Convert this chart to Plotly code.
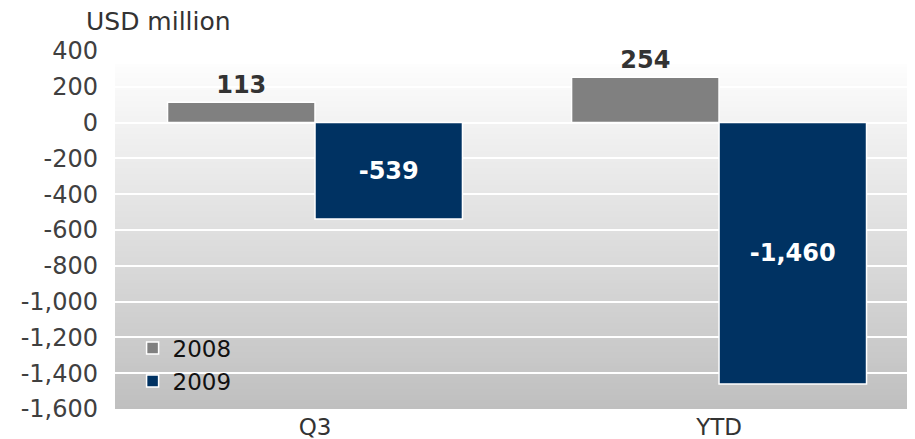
import plotly.graph_objects as go

categories = ["Q3", "YTD"]
values_2008 = [113, 254]
values_2009 = [-539, -1460]
labels_2008 = ["113", "254"]
labels_2009 = ["-539", "-1,460"]
tick_values = [400, 200, 0, -200, -400, -600, -800, -1000, -1200, -1400, -1600]
tick_labels = ["400", "200", "0", "-200", "-400", "-600", "-800", "-1,000", "-1,200", "-1,400", "-1,600"]

FONT = "DejaVu Sans"
fig = go.Figure()
fig.add_trace(go.Bar(
    name="2008", x=categories, y=values_2008, text=labels_2008,
    textposition="outside", cliponaxis=False, constraintext="none",
    textfont=dict(family=FONT, size=24, color="#333333", weight="bold"),
    marker=dict(color="#808080", line=dict(color="white", width=1.5)),
))
fig.add_trace(go.Bar(
    name="2009", x=categories, y=values_2009, text=labels_2009,
    textposition="inside", insidetextanchor="middle", constraintext="none",
    textfont=dict(family=FONT, size=24, color="white", weight="bold"),
    marker=dict(color="#003262", line=dict(color="white", width=1.5)),
))

# gradient background (plot area): stacked rects, each reaching the bottom (no seams)
top_val, bot_val = 326, -1600
n = 120
c0, c1 = 0xFD, 0xBF
shapes = []
for i in range(n):
    y_top = top_val - (top_val - bot_val) * i / n
    c = round(c0 + (c1 - c0) * (i + 0.5) / n)
    col = f"rgb({c},{c},{c})"
    shapes.append(dict(type="rect", xref="paper", yref="y", x0=0, x1=1, y0=bot_val, y1=y_top,
                       fillcolor=col, line=dict(width=0), layer="below"))

L, T, R, B = 107, 43, 0, 30
W, H = 907, 431
PLOT_W = W - L - R
PLOT_H = H - T - B
fig.update_layout(
    width=W, height=H,
    margin=dict(l=L, r=R, t=T, b=B, autoexpand=False),
    paper_bgcolor="white", plot_bgcolor="rgba(0,0,0,0)",
    barmode="group", bargap=0.27, bargroupgap=0,
    shapes=shapes,
    font=dict(family=FONT, size=24, color="#404040"),
    showlegend=True,
    legend=dict(x=0.022, y=0.23, xanchor="left", yanchor="top",
                bgcolor="rgba(0,0,0,0)", font=dict(size=23, color="#111111"),
                tracegroupgap=0, itemwidth=30),
    xaxis=dict(range=[-0.495, 1.485], showgrid=False, showline=False, ticks="",
               automargin=False, ticklabelstandoff=2,
               tickfont=dict(size=23, color="#333333"), fixedrange=True),
    yaxis=dict(range=[-1600, 400], tickvals=tick_values, ticktext=tick_labels,
               showgrid=True, gridcolor="white", gridwidth=2,
               zeroline=True, zerolinecolor="white", zerolinewidth=2,
               showline=False, ticks="", ticklabelstandoff=16, automargin=False,
               tickfont=dict(size=24, color="#404040")),
    annotations=[dict(text="USD million", xref="paper", yref="paper",
                      x=(150 - L) / PLOT_W, y=(H - B - 14) / PLOT_H,
                      xanchor="center", yanchor="middle", showarrow=False,
                      font=dict(size=25, color="#333333"))],
)
fig.write_html("out.html")
